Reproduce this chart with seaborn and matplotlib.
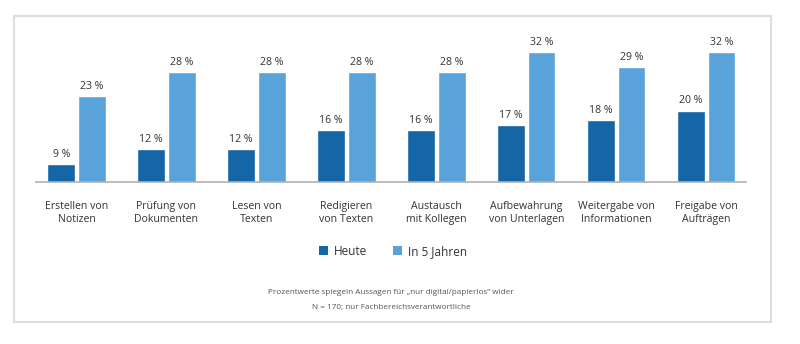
import matplotlib
matplotlib.use("Agg")
import matplotlib.pyplot as plt
from matplotlib.patches import Rectangle, Patch
import seaborn as sns
import pandas as pd

categories = [
    "Erstellen von\nNotizen",
    "Prüfung von\nDokumenten",
    "Lesen von\nTexten",
    "Redigieren\nvon Texten",
    "Austausch\nmit Kollegen",
    "Aufbewahrung\nvon Unterlagen",
    "Weitergabe von\nInformationen",
    "Freigabe von\nAufträgen",
]
heute = [9, 12, 12, 16, 16, 17, 18, 20]
in_5_jahren = [23, 28, 28, 28, 28, 32, 29, 32]
series_names = ["Heute", "In 5 Jahren"]
footnote = ["Prozentwerte spiegeln Aussagen für „nur digital/papierlos“ wider",
            "N = 170; nur Fachbereichsverantwortliche"]

df = pd.DataFrame({
    "Kategorie": categories * 2,
    "Wert": heute + in_5_jahren,
    "Zeitpunkt": [series_names[0]] * len(categories) + [series_names[1]] * len(categories),
})

sns.set_theme(style="white")
plt.rcParams["font.family"] = ["Open Sans", "DejaVu Sans"]

colors = ["#1466a6", "#5aa3da"]
text_color = "#333333"

fig = plt.figure(figsize=(8, 3.44), dpi=100)
ax = fig.add_axes([0.045, 0.471, 0.8875, 0.47])

sns.barplot(data=df, x="Kategorie", y="Wert", hue="Zeitpunkt",
            palette=colors, width=0.68, gap=0.1, ax=ax, legend=False,
            saturation=1)

for cont in ax.containers:
    ax.bar_label(cont, fmt="%d %%", padding=3, fontsize=7.6, color=text_color)

ax.set_ylim(5.3, 38.6)
ax.set_xlim(-0.45, 7.44)
ax.set_xlabel("")
ax.set_ylabel("")
ax.set_yticks([])
ax.tick_params(axis="x", length=0, pad=14, labelsize=7.6, labelcolor=text_color)
for lbl in ax.get_xticklabels():
    lbl.set_linespacing(1.15)
for side in ["left", "right", "top"]:
    ax.spines[side].set_visible(False)
ax.spines["bottom"].set_color("#b0b0b0")
ax.spines["bottom"].set_linewidth(1.2)

handles = [Patch(facecolor=c, edgecolor="none") for c in colors]
fig.legend(handles, series_names, loc="center", bbox_to_anchor=(0.4915, 0.27),
           ncol=2, frameon=False, fontsize=8.5, handlelength=0.75,
           handleheight=0.75, handletextpad=0.5, columnspacing=2.2,
           labelcolor=text_color)

fig.text(0.489, 1 - 293 / 344, footnote[0], ha="center", va="center",
         fontsize=5.9, color="#555555")
fig.text(0.489, 1 - 307 / 344, footnote[1], ha="center", va="center",
         fontsize=5.9, color="#555555")

fig.patches.append(Rectangle((14 / 800, 1 - 322 / 344), 757 / 800, 306 / 344,
                             transform=fig.transFigure, fill=False,
                             edgecolor="#dddddd", linewidth=1.5))

fig.savefig("out.png", dpi=100, facecolor="white")
